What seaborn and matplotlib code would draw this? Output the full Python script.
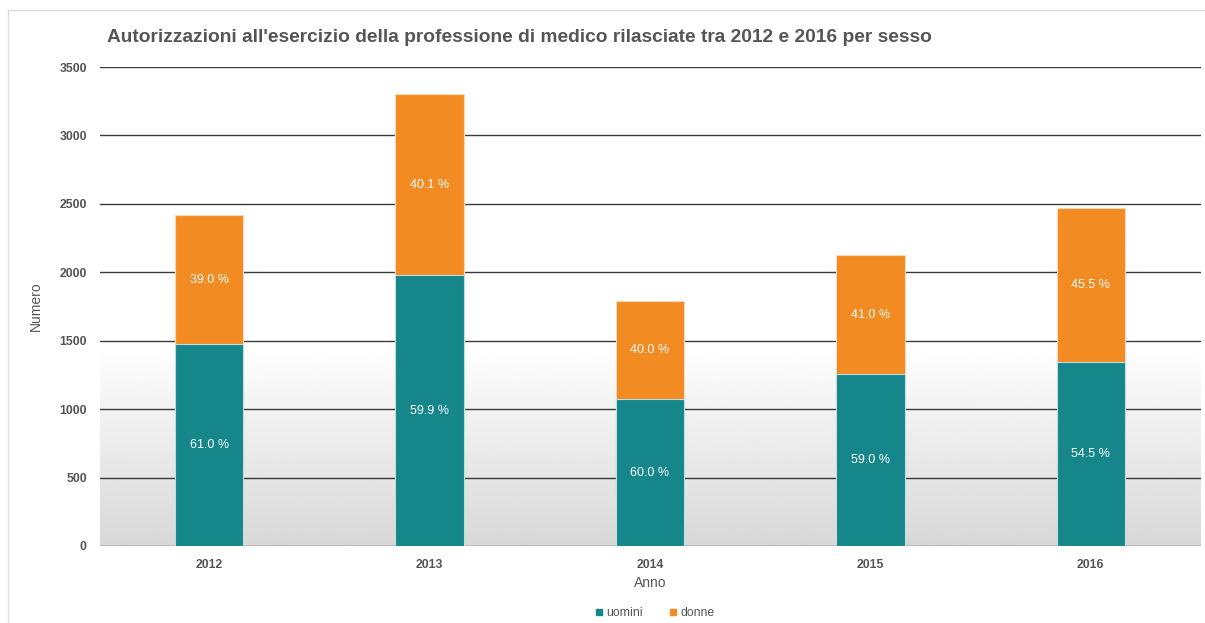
"""Autorizzazioni all'esercizio della professione di medico, 2012-2016, per sesso."""

import matplotlib
matplotlib.use('Agg')
import matplotlib.pyplot as plt
from matplotlib.lines import Line2D
from matplotlib.patches import Rectangle
import seaborn as sns
import numpy as np

# Data
anni = ['2012', '2013', '2014', '2015', '2016']
uomini = [1475, 1978, 1074, 1254, 1346]
donne = [943, 1325, 716, 872, 1124]
pct_uomini = ['61.0 %', '59.9 %', '60.0 %', '59.0 %', '54.5 %']
pct_donne = ['39.0 %', '40.1 %', '40.0 %', '41.0 %', '45.5 %']
totali = [u + d for u, d in zip(uomini, donne)]

TEAL = '#15868a'
ORANGE = '#f18b22'
GREY_TXT = '#555555'

sns.set_theme(style="white")
plt.rcParams['font.family'] = ['Liberation Sans', 'DejaVu Sans']

fig = plt.figure(figsize=(12.05, 6.23), dpi=100)
ax = fig.add_axes([100 / 1205, 1 - 546 / 623, 1101 / 1205, 479 / 623])

# light frame around the chart
fig.patches.append(Rectangle((8 / 1205, -0.1), 1.2, 1 - 10 / 623 + 0.1,
                             transform=fig.transFigure, fill=False,
                             edgecolor='#dddddd', linewidth=1, zorder=0))

# background gradient (grey at bottom fading to white)
grad = np.linspace(0, 1, 256).reshape(-1, 1)
grad = np.clip(grad / 0.42, 0, 1)
ax.imshow(grad, extent=[0, 1, 0, 1], transform=ax.transAxes, origin='lower',
          aspect='auto', cmap='gray', vmin=-5.5, vmax=1, zorder=0)

sns.barplot(x=anni, y=totali, color=ORANGE, saturation=1, width=0.31,
            edgecolor='#f6d9bb', linewidth=0.8, ax=ax, zorder=2)
sns.barplot(x=anni, y=uomini, color=TEAL, saturation=1, width=0.31,
            edgecolor='#bfe0e0', linewidth=0.8, ax=ax, zorder=3)

for i in range(len(anni)):
    ax.text(i, uomini[i] / 2, pct_uomini[i], ha='center', va='center',
            color='white', fontsize=9, zorder=4)
    ax.text(i, uomini[i] + donne[i] / 2, pct_donne[i], ha='center', va='center',
            color='white', fontsize=9, zorder=4)

ax.set_xlim(-0.495, 4.5)
ax.set_ylim(0, 3500)
ax.set_yticks(range(0, 3501, 500))
ax.yaxis.grid(True, color='#3a3a3a', linewidth=1)
ax.set_axisbelow(True)
for s in ax.spines.values():
    s.set_visible(False)
ax.tick_params(axis='both', length=0, labelsize=8.8, labelcolor=GREY_TXT)
for lab in ax.get_xticklabels() + ax.get_yticklabels():
    lab.set_fontweight('bold')
ax.tick_params(axis='x', pad=9)
ax.tick_params(axis='y', pad=9.5)

ax.set_xlabel('Anno', fontsize=10, color=GREY_TXT, labelpad=4)
ax.set_ylabel('Numero', fontsize=10, color=GREY_TXT, labelpad=12)

fig.text(107 / 1205, 1 - 37 / 623, "Autorizzazioni all'esercizio della professione di medico rilasciate tra 2012 e 2016 per sesso",
         fontsize=13.8, fontweight='bold', color=GREY_TXT, ha='left', va='center')

handles = [Line2D([], [], marker='s', linestyle='', color=TEAL, markersize=5),
           Line2D([], [], marker='s', linestyle='', color=ORANGE, markersize=5)]
fig.legend(handles, ['uomini', 'donne'], loc='center', bbox_to_anchor=(655 / 1205, 1 - 613 / 623),
           ncol=2, frameon=False, fontsize=8.8, handlelength=0.6, handletextpad=0.3,
           columnspacing=2.2, labelcolor=GREY_TXT)

fig.savefig('out.png', dpi=100, facecolor='white')
plt.close(fig)
